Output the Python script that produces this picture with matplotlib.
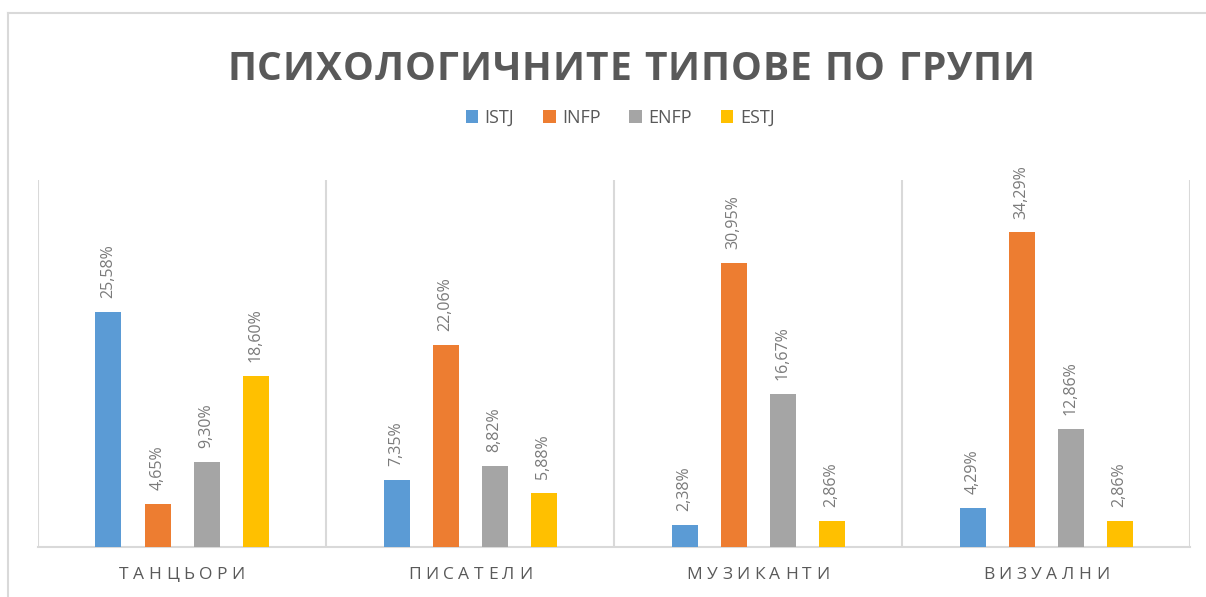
import matplotlib
matplotlib.use("Agg")
import matplotlib.pyplot as plt
import numpy as np
from matplotlib.lines import Line2D

plt.rcParams['font.family'] = ['Open Sans', 'DejaVu Sans']

groups = ["ТАНЦЬОРИ", "ПИСАТЕЛИ", "МУЗИКАНТИ", "ВИЗУАЛНИ"]
types = ["ISTJ", "INFP", "ENFP", "ESTJ"]
istj = [25.58, 7.35, 2.38, 4.29]
infp = [4.65, 22.06, 30.95, 34.29]
enfp = [9.30, 8.82, 16.67, 12.86]
estj = [18.60, 5.88, 2.86, 2.86]
colors = ["#5B9BD5", "#ED7D31", "#A5A5A5", "#FFC000"]
text_col = "#595959"

W, H = 1206, 597
fig = plt.figure(figsize=(W / 100, H / 100), dpi=100)
ax = fig.add_axes([38 / W, 50 / H, (1190 - 38) / W, 367 / H])
renderer = fig.canvas.get_renderer()


def spaced_text(s, cx, cy, spacing, space_frac=0.45, **kw):
    # draw text one char at a time so we can add letter spacing
    pieces = []
    widths = []
    for ch in s:
        t = fig.text(0, cy, ch, va="center", ha="left", **kw)
        w = t.get_window_extent(renderer).width if ch != " " else None
        pieces.append(t)
        widths.append(w)
    sp = [w for w in widths if w is not None]
    space_w = np.mean(sp) * space_frac
    widths = [space_w if w is None else w for w in widths]
    total = sum(widths) + spacing * (len(s) - 1)
    x = cx * W - total / 2
    for t, w in zip(pieces, widths):
        t.set_x(x / W)
        x += w + spacing


series = [istj, infp, enfp, estj]
x = np.arange(len(groups))
step = 49 / 288
bw = 26 / 288
for i, vals in enumerate(series):
    pos = x + (i - 1.5) * step
    bars = ax.bar(pos, vals, width=bw, color=colors[i], label=types[i], zorder=3)
    for b, v in zip(bars, vals):
        ax.annotate(f"{v:.2f}%".replace(".", ","), (b.get_x() + b.get_width() / 2, v),
                    xytext=(0, 10), textcoords="offset points", rotation=90,
                    ha="center", va="bottom", fontsize=11.5, color="#7a7a7a")

ax.set_xlim(-0.5, 3.5)
ax.set_ylim(0, 40)
ax.set_yticks([])
ax.set_xticks([])
for s in ["top", "right", "left"]:
    ax.spines[s].set_visible(False)
ax.spines["bottom"].set_color("#D9D9D9")
ax.spines["bottom"].set_linewidth(1.5)
for b in [-0.5, 0.5, 1.5, 2.5, 3.5]:
    ax.axvline(b, color="#D9D9D9", lw=1.5, zorder=1)

for i, g in enumerate(groups):
    cx = (38 + 288 * (i + 0.5)) / W
    spaced_text(g, cx, 1 - 575 / H, 4.5, fontsize=12.5, color=text_col)

spaced_text("ПСИХОЛОГИЧНИТЕ ТИПОВЕ ПО ГРУПИ", 631 / W, 1 - 70 / H, 1.0, space_frac=0.4,
            fontsize=28, fontweight="bold", color=text_col)

leg = fig.legend(loc="center", bbox_to_anchor=(620 / W, 1 - 118 / H), ncol=4,
                 frameon=False, fontsize=13, handlelength=0.7, handleheight=0.7,
                 handletextpad=0.35, columnspacing=1.6)
for t in leg.get_texts():
    t.set_color(text_col)

fig.add_artist(Line2D([8 / W, 8 / W], [0, 1 - 13 / H], color="#D9D9D9", lw=1.5))
fig.add_artist(Line2D([8 / W, 1], [1 - 13 / H, 1 - 13 / H], color="#D9D9D9", lw=1.5))

fig.savefig("out.png", dpi=100)
